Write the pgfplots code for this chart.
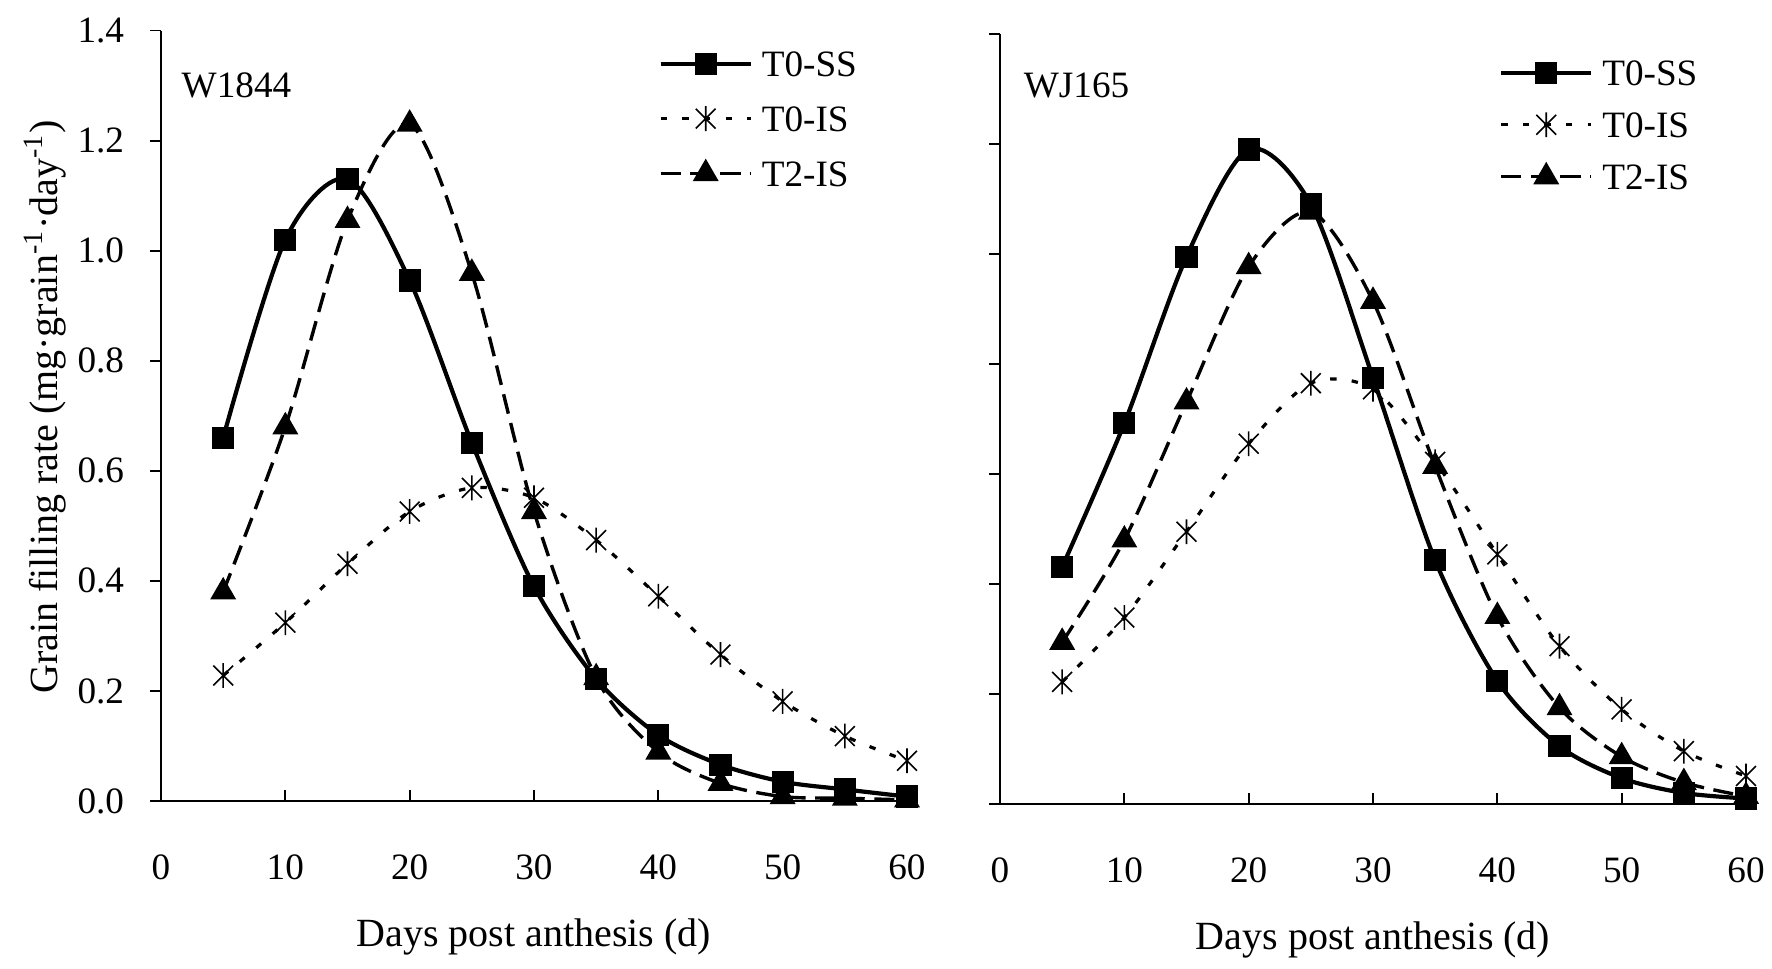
\documentclass[border=0pt]{standalone}
\usepackage{fontspec}
\setmainfont{Liberation Serif}
\usepackage{pgfplots}
\usepackage{pgfplotstable}
\pgfplotsset{compat=1.18}

\pgfdeclareplotmark{xstar}{%
  \pgfpathmoveto{\pgfqpoint{0pt}{\pgfplotmarksize}}%
  \pgfpathlineto{\pgfqpoint{0pt}{-\pgfplotmarksize}}%
  \pgfpathmoveto{\pgfqpoint{0.8\pgfplotmarksize}{0.8\pgfplotmarksize}}%
  \pgfpathlineto{\pgfqpoint{-0.8\pgfplotmarksize}{-0.8\pgfplotmarksize}}%
  \pgfpathmoveto{\pgfqpoint{-0.8\pgfplotmarksize}{0.8\pgfplotmarksize}}%
  \pgfpathlineto{\pgfqpoint{0.8\pgfplotmarksize}{-0.8\pgfplotmarksize}}%
  \pgfusepathqstroke}

\pgfplotstableread{
x ss is t2
5 0.66 0.228 0.38
10 1.02 0.324 0.68
15 1.13 0.431 1.055
20 0.946 0.526 1.23
25 0.651 0.569 0.959
30 0.39 0.551 0.526
35 0.222 0.474 0.224
40 0.12 0.372 0.089
45 0.066 0.266 0.032
50 0.035 0.181 0.008
55 0.021 0.118 0.005
60 0.008 0.073 0.002
}\dataA

\pgfplotstableread{
x ss is t2
5 0.431 0.222 0.294
10 0.692 0.339 0.48
15 0.995 0.495 0.731
20 1.19 0.655 0.977
25 1.09 0.765 1.076
30 0.775 0.754 0.914
35 0.443 0.622 0.614
40 0.224 0.454 0.341
45 0.105 0.287 0.175
50 0.047 0.172 0.086
55 0.02 0.096 0.039
60 0.01 0.051 0.014
}\dataB

\pgfplotsset{
  gfr/.style={
    scale only axis, width=186.5pt, height=192.6pt,
    xmin=0, xmax=60, ymin=0, ymax=1.4,
    axis x line=bottom, axis y line=left,
    axis line style={-, line width=0.45pt, black},
    xtick={0,10,...,60}, ytick={0,0.2,...,1.4},
    tick align=inside,
    major tick length=2.75pt,
    tick style={line width=0.45pt, black},
    ytick style={xshift=-2.75pt},
    /pgf/number format/assume math mode=true,
    xticklabel style={font=\fontsize{9.3}{11}\selectfont, yshift=-10pt},
    yticklabel style={font=\fontsize{9.3}{11}\selectfont, xshift=-5.7pt,
      /pgf/number format/fixed, /pgf/number format/fixed zerofill, /pgf/number format/precision=1},
    label style={font=\fontsize{10}{12}\selectfont},
    xlabel={Days post anthesis (d)},
    xlabel style={at={([yshift=-34pt]axis description cs:0.5,0)}, anchor=center},
    legend style={draw=none, fill=none, inner sep=0pt, font=\fontsize{9.3}{11}\selectfont,
      row sep=7.25pt, column sep=2.25pt,
      nodes={inner sep=0pt, text height=6.5pt, text depth=0pt}},
    legend cell align=left,
    legend image code/.code={\draw[mark repeat=2, mark phase=2, #1] plot coordinates {(0pt,0pt) (11.25pt,0pt) (22.5pt,0pt)};},
    clip=false,
  },
  ss/.style={black, line width=1.05pt, smooth, mark=square*, mark size=2.25pt, mark options={solid}},
  is/.style={black, line width=0.8pt, smooth, dash pattern=on 1.6pt off 3.8pt, mark=xstar, mark size=3.1pt, mark options={solid, line width=0.4pt}},
  t2/.style={black, line width=0.85pt, smooth, dash pattern=on 5pt off 2.4pt, mark=triangle*, mark size=2.9pt, mark options={solid}},
}

\begin{document}
\begin{tikzpicture}
\useasboundingbox (0,0) rectangle (443pt,242.25pt);

\begin{axis}[gfr, at={(40.25pt,42pt)}, anchor=south west,
  ylabel={Grain filling rate (mg·grain\textsuperscript{-1}·day\textsuperscript{-1})},
  ylabel style={at={([xshift=-29pt,yshift=2.25pt]axis description cs:0,0.5)}, anchor=center},
  legend style={at={(0.666,0.975)}, anchor=north west}]
\addplot[ss] table[x=x,y=ss] {\dataA};
\addlegendentry{T0-SS}
\addplot[is] table[x=x,y=is] {\dataA};
\addlegendentry{T0-IS}
\addplot[t2] table[x=x,y=t2] {\dataA};
\addlegendentry{T2-IS}
\node[anchor=west, inner sep=0pt, font=\fontsize{9.3}{11}\selectfont] at (axis cs:1.6,1.30) {W1844};
\end{axis}

\begin{axis}[gfr, at={(250pt,41.25pt)}, anchor=south west, height=192.5pt,
  yticklabels={},
  legend style={at={(0.668,0.9675)}, anchor=north west, row sep=6.5pt}]
\addplot[ss] table[x=x,y=ss] {\dataB};
\addlegendentry{T0-SS}
\addplot[is] table[x=x,y=is] {\dataB};
\addlegendentry{T0-IS}
\addplot[t2] table[x=x,y=t2] {\dataB};
\addlegendentry{T2-IS}
\node[anchor=west, inner sep=0pt, font=\fontsize{9.3}{11}\selectfont] at (axis cs:1.85,1.307) {WJ165};
\end{axis}
\end{tikzpicture}
\end{document}
